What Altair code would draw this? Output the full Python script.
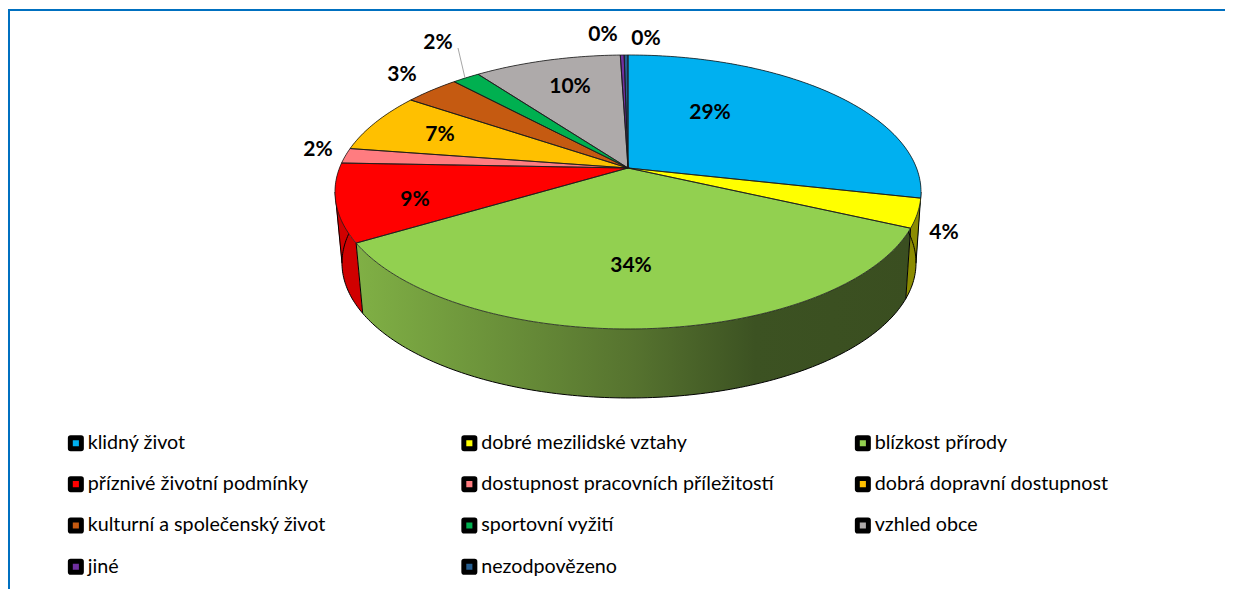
import math
import altair as alt

# ---- data ----
categories = ["klidný život", "dobré mezilidské vztahy", "blízkost přírody",
              "příznivé životní podmínky", "dostupnost pracovních příležitostí",
              "dobrá dopravní dostupnost", "kulturní a společenský život",
              "sportovní vyžití", "vzhled obce", "jiné", "nezodpovězeno"]
values = [28.5, 3.4, 34.5, 9.2, 1.8, 7.1, 3.6, 1.8, 9.6, 0.25, 0.25]
labels = ["29%", "4%", "34%", "9%", "2%", "7%", "3%", "2%", "10%", "0%", "0%"]
colors = ["#00B0F0", "#FFFF00", "#92D050", "#FF0000", "#FF7C80", "#FFC000",
          "#C55A11", "#00B050", "#AEAAAA", "#7030A0", "#255E91"]
wall_colors = ["#007AA8", "#8C8C00", "#5B7F30", "#D00000", "#B05558", "#B08500",
               "#883E0C", "#007A38", "#787676", "#4E2170", "#1A4166"]

# ---- layout (page pixels) ----
OX, OY = 8, 8                 # page margin
CX, APEX_Y = 628, 168         # where the slices meet on the top face
A, B, K = 132.8, 288.5, 0.175 # perspective of the top face
LOW = dict(cx=629, cy=263, rx=287, ry=135)
TOP = dict(cx=628, cy=192, rx=293, ry=137)
label_pos = [(710, 111), (944, 231), (631, 264), (415, 198), (318, 148), (440, 133),
             (402, 73), (438, 41), (570, 85), (603, 33), (646, 37)]
FONT = "Lato"


def top_point(frac):
    a = 2 * math.pi * frac
    u, v = math.sin(a), math.cos(a)
    d = 1 + K * v
    return CX + B * u / d, APEX_Y - A * v / d


def low_point(p):
    c = (p[0] - TOP["cx"]) / TOP["rx"]
    s = (p[1] - TOP["cy"]) / TOP["ry"]
    return LOW["cx"] + LOW["rx"] * c, LOW["cy"] + LOW["ry"] * s


def pg(p):
    return [p[0] - OX, p[1] - OY]


def feature(name, kind, coords):
    return {"type": "Feature", "properties": {"name": name},
            "geometry": {"type": kind, "coordinates": coords}}


def quad(a, b, c, d):
    pts = [a, b, c, d]
    area = sum(pts[i][0] * pts[(i + 1) % 4][1] - pts[(i + 1) % 4][0] * pts[i][1] for i in range(4))
    if area < 0:
        pts = pts[::-1]
    return [[pg(p) for p in pts] + [pg(pts[0])]]


tops, walls, rims, edges = [], [], [], []
start = 0.0
total = sum(values)
for idx, (name, val, wc) in enumerate(zip(categories, values, wall_colors)):
    n = max(3, int(val * 4))
    rim = [top_point((start + val * i / n) / total) for i in range(n + 1)]
    apex = (CX, APEX_Y)
    tops.append(feature(name, "Polygon", [[pg(apex)] + [pg(p) for p in rim] + [pg(apex)]]))
    low = [low_point(p) for p in rim]
    f = feature(name, "MultiPolygon", [quad(rim[i], rim[i + 1], low[i + 1], low[i]) for i in range(n)])
    f["properties"]["wall"] = wc
    walls.append(f)
    rims.append(feature(name, "LineString", [pg(p) for p in low]))
    if idx in (1, 2):   # visible front edges of the walls
        edges.append(feature(name, "LineString", [pg(rim[-1]), pg(low[-1])]))
    start += val

for side in (-1, 1):
    edges.append(feature("tangent", "LineString", [
        pg((TOP["cx"] + side * TOP["rx"], TOP["cy"])),
        pg((LOW["cx"] + side * LOW["rx"], LOW["cy"])),
    ]))

proj = alt.Projection(type="identity", scale=1, translate=[0, 0])

other_walls = [w for w in walls if w["properties"]["name"] != categories[2]]
green_wall = [w for w in walls if w["properties"]["name"] == categories[2]]

wall_layer = alt.Chart(alt.Data(values=other_walls)).mark_geoshape(strokeWidth=0).encode(
    color=alt.Color("properties.wall:N", scale=None, legend=None)
)

green_layer = alt.Chart(alt.Data(values=green_wall)).mark_geoshape(
    strokeWidth=0,
    fill=alt.LinearGradient(
        gradient="linear", x1=0, x2=1, y1=0, y2=0,
        stops=[alt.GradientStop(color="#80B045", offset=0),
               alt.GradientStop(color="#56732F", offset=0.5),
               alt.GradientStop(color="#3C5222", offset=0.72),
               alt.GradientStop(color="#3A4E20", offset=1)],
    ),
)

outline_layer = alt.Chart(alt.Data(values=rims + edges)).mark_geoshape(
    filled=False, stroke="#000000", strokeWidth=1
)

# two nested loops: their strokes touch and make one thick black ring
ROUND = ("M-0.8,-1 H0.8 Q1,-1 1,-0.8 V0.8 Q1,1 0.8,1 H-0.8 Q-1,1 -1,0.8 "
         "V-0.8 Q-1,-1 -0.8,-1 Z M-0.846,-0.846 H0.846 V0.846 H-0.846 Z "
         "M-0.7,-0.7 H0.7 V0.7 H-0.7 Z")

fill_scale = alt.Scale(domain=categories, range=colors)

top_layer = alt.Chart(alt.Data(values=tops)).mark_geoshape().encode(
    fill=alt.Fill(
        "properties.name:N",
        scale=fill_scale,
        legend=alt.Legend(
            title=None, orient="none", legendX=58, legendY=425, columns=3,
            direction="horizontal", gridAlign="all", symbolType=ROUND, symbolSize=169,
            symbolStrokeColor="black", symbolStrokeWidth=3, symbolOpacity=1,
            labelFont=FONT, labelFontSize=19.7, labelColor="#000000", labelLimit=500,
            labelOffset=2, columnPadding=75.5, rowPadding=15.3,
        ),
    )
)

top_outline = alt.Chart(alt.Data(values=tops)).mark_geoshape(
    filled=False, stroke="#1A1A1A", strokeWidth=0.8
)

text_rows = [{"lon": p[0] - OX, "lat": p[1] - OY + 1.5, "t": t} for p, t in zip(label_pos, labels)]
text_layer = alt.Chart(alt.Data(values=text_rows)).mark_text(
    font=FONT, fontWeight="bold", fontSize=21, color="#000000", align="center", baseline="middle"
).encode(longitude="lon:Q", latitude="lat:Q", text="t:N")

leader = alt.Chart(alt.Data(values=[
    feature("leader", "LineString", [pg((458, 48)), pg((465, 78))])
])).mark_geoshape(filled=False, stroke="#A6A6A6", strokeWidth=1)

frame = alt.Chart(alt.Data(values=[
    feature("frame", "LineString", [pg((9, 600)), pg((9, 10)), pg((1240, 10))])
])).mark_geoshape(filled=False, stroke="#0070C0", strokeWidth=2)

chart = alt.layer(
    frame, wall_layer, green_layer, outline_layer, top_layer, top_outline,
    leader, text_layer, projection=proj
).properties(
    width=1217, height=581, padding=0,
    autosize=alt.AutoSizeParams(type="none"),
).configure_view(stroke=None).configure(background="white")

chart.save("out.html", embed_options={"renderer": "svg", "actions": False})
